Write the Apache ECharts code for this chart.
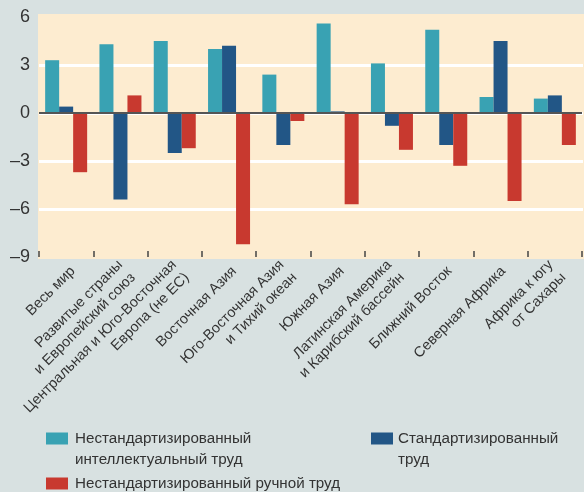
<!DOCTYPE html>
<html>
<head>
<meta charset="utf-8">
<script src="https://cdn.jsdelivr.net/npm/echarts@6/dist/echarts.min.js"></script>
<style>
html,body{margin:0;padding:0;background:#d8e1e1;}
#c{width:584px;height:492px;}
</style>
</head>
<body>
<div id="c"></div>
<script>
var categories = [
  'Весь мир',
  'Развитые страны\nи Европейский союз',
  'Центральная и Юго-Восточная\nЕвропа (не ЕС)',
  'Восточная Азия',
  'Юго-Восточная Азия\nи Тихий океан',
  'Южная Азия',
  'Латинская Америка\nи Карибский бассейн',
  'Ближний Восток',
  'Северная Африка',
  'Африка к югу\nот Сахары'
];
var seriesNames = [
  'Нестандартизированный интеллектуальный труд',
  'Стандартизированный труд',
  'Нестандартизированный ручной труд'
];
var nonRoutineCognitive = [3.3, 4.3, 4.5, 4.0, 2.4, 5.6, 3.1, 5.2, 1.0, 0.9];
var routine = [0.4, -5.4, -2.5, 4.2, -2.0, 0.1, -0.8, -2.0, 4.5, 1.1];
var nonRoutineManual = [-3.7, 1.1, -2.2, -8.2, -0.5, -5.7, -2.3, -3.3, -5.5, -2.0];
var yMin = -9, yMax = 6, yStep = 3;

var FONT = "'Liberation Sans', Arial, sans-serif";
var colors = ['#39a2b3', '#225686', '#c8392f'];

var chart = echarts.init(document.getElementById('c'), null, {renderer: 'canvas'});

function bar(name, data, color) {
  return {
    name: name, type: 'bar', data: data, xAxisIndex: 0, yAxisIndex: 0,
    barWidth: 14, barGap: '0%', z: 3,
    itemStyle: {color: color},
    emphasis: {disabled: true}
  };
}

var s0 = bar(seriesNames[0], nonRoutineCognitive, colors[0]);
s0.markLine = {
  silent: true, symbol: 'none', animation: false,
  label: {show: false},
  lineStyle: {color: '#555', width: 2, type: 'solid'},
  data: [{yAxis: 0}]
};

var LEG_FS = 15.2;
var option = {
  backgroundColor: '#d8e1e1',
  animation: false,
  textStyle: {fontFamily: FONT},
  graphic: [
    {type: 'rect', z: -10, shape: {x: 38, y: 14, width: 546, height: 245}, style: {fill: '#fdecd0'}},
    {type: 'text', x: 75, y: 460, style: {text: 'интеллектуальный труд', font: LEG_FS + 'px ' + FONT, fill: '#333', verticalAlign: 'middle'}},
    {type: 'text', x: 398, y: 460, style: {text: 'труд', font: LEG_FS + 'px ' + FONT, fill: '#333', verticalAlign: 'middle'}}
  ],
  grid: [
    {left: 39, right: 2, top: 17, height: 240, containLabel: false},
    {left: 39, right: 1, top: 65, height: 144, containLabel: false},
    {left: 46, right: -5, top: 20, height: 240, containLabel: false}
  ],
  xAxis: [
    {
      type: 'category', gridIndex: 0, data: categories, position: 'bottom',
      axisLine: {show: false, onZero: false},
      axisTick: {show: true, interval: 0, inside: true, length: 6, lineStyle: {color: '#444', width: 1.5}},
      axisLabel: {show: false, interval: 0}
    },
    {type: 'category', gridIndex: 1, data: categories, show: false},
    {
      type: 'category', gridIndex: 2, data: categories, position: 'bottom',
      axisLine: {show: false, onZero: false}, axisTick: {show: false},
      axisLabel: {
        interval: 0, rotate: 45, margin: 9, fontSize: 14.5, lineHeight: 18,
        color: '#333', fontFamily: FONT
      }
    }
  ],
  yAxis: [
    {
      type: 'value', gridIndex: 0, min: yMin, max: yMax, interval: yStep,
      axisLine: {show: false}, axisTick: {show: false},
      splitLine: {show: false},
      axisLabel: {
        fontSize: 18, color: '#333', margin: 9, fontFamily: FONT,
        formatter: function (v) { return String(v).replace('-', '–'); }
      }
    },
    {
      type: 'value', gridIndex: 1, min: -6, max: 3, interval: 3,
      axisLine: {show: false}, axisTick: {show: false}, axisLabel: {show: false},
      splitLine: {show: true, lineStyle: {color: '#ffffff', width: 3}}
    },
    {type: 'value', gridIndex: 2, min: yMin, max: yMax, show: false}
  ],
  legend: [
    {
      data: [seriesNames[0]], left: 46, top: 431, padding: 0,
      icon: 'rect', itemWidth: 22, itemHeight: 12, selectedMode: false,
      textStyle: {fontSize: LEG_FS, color: '#333', fontFamily: FONT, padding: [0, 0, 0, 2]},
      formatter: function () { return 'Нестандартизированный'; }
    },
    {
      data: [seriesNames[2]], left: 46, top: 476, padding: 0,
      icon: 'rect', itemWidth: 22, itemHeight: 12, selectedMode: false,
      textStyle: {fontSize: LEG_FS, color: '#333', fontFamily: FONT, padding: [0, 0, 0, 2]}
    },
    {
      data: [seriesNames[1]], left: 371, top: 431, padding: 0,
      icon: 'rect', itemWidth: 22, itemHeight: 12, selectedMode: false,
      textStyle: {fontSize: LEG_FS, color: '#333', fontFamily: FONT},
      formatter: function () { return 'Стандартизированный'; }
    }
  ],
  series: [
    s0,
    bar(seriesNames[1], routine, colors[1]),
    bar(seriesNames[2], nonRoutineManual, colors[2])
  ]
};
chart.setOption(option);
</script>
</body>
</html>
